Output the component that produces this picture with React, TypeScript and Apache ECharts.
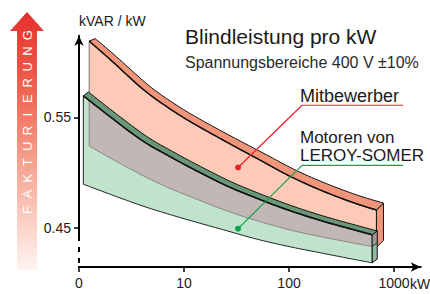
import React, { useEffect, useRef } from 'react';
import * as echarts from 'echarts';

const FONT = '"Liberation Sans", Arial, sans-serif';

// x axis positions are log10(kW); labels
const X_TICKS = [0, 1, 2, 3];
const X_TICK_LABELS = ['0', '10', '100', '1000'];
const Y_TICKS = [0.45, 0.55];

// Mitbewerber band (kW, kVAR/kW)
const COMP_KW = [1.25, 2, 4, 7, 12, 25, 50, 100, 200, 400, 680];
const COMP_TOP = [0.619, 0.602, 0.576, 0.559, 0.545, 0.528, 0.5125, 0.497, 0.484, 0.473, 0.466];
const COMP_BOTTOM = [0.524, 0.513, 0.4975, 0.4865, 0.4774, 0.4656, 0.4562, 0.4482, 0.4419, 0.4363, 0.4322];

// LEROY-SOMER band
const LS_KW = [1.1, 2, 4, 7, 12, 25, 50, 100, 200, 400, 620];
const LS_TOP = [0.5695, 0.5501, 0.5289, 0.5155, 0.5035, 0.4883, 0.4764, 0.4657, 0.4565, 0.4485, 0.4436];
const LS_BOTTOM = [0.4894, 0.4801, 0.4698, 0.4625, 0.456, 0.4475, 0.4395, 0.4329, 0.4272, 0.4216, 0.4182];

// leader lines
const COMP_LEADER_KW = [32.7, 133, 1219];
const COMP_LEADER_V = [0.5045, 0.5609, 0.5609];
const LS_LEADER_KW = [32.7, 133, 1219];
const LS_LEADER_V = [0.4491, 0.5064, 0.5064];

const Y_MIN = 0.4144;
const Y_MAX = 0.6239;
const X_MAX = 3.254;
const AXIS_SOLID_END = 0.438;

const ARROW_WORD = 'FAKTURIERUNG';

// Catmull-Rom densification of pixel points (visual smoothing only)
const smoothPts = (p: number[][], seg = 10) => {
  const out: number[][] = [];
  for (let i = 0; i < p.length - 1; i++) {
    const p0 = p[Math.max(0, i - 1)];
    const p1 = p[i];
    const p2 = p[i + 1];
    const p3 = p[Math.min(p.length - 1, i + 2)];
    for (let s = 0; s < seg; s++) {
      const t = s / seg;
      const t2 = t * t;
      const t3 = t2 * t;
      out.push(
        [0, 1].map(
          (k) =>
            0.5 *
            (2 * p1[k] +
              (-p0[k] + p2[k]) * t +
              (2 * p0[k] - 5 * p1[k] + 4 * p2[k] - p3[k]) * t2 +
              (-p0[k] + 3 * p1[k] - 3 * p2[k] + p3[k]) * t3)
        )
      );
    }
  }
  out.push(p[p.length - 1]);
  return out;
};

const renderBands = (_params: any, api: any) => {
  const pts = (kw: number[], v: number[]) =>
    smoothPts(kw.map((k, i) => api.coord([Math.log10(k), v[i]]) as number[]));
  const cT = pts(COMP_KW, COMP_TOP);
  const cB = pts(COMP_KW, COMP_BOTTOM);
  const gT = pts(LS_KW, LS_TOP);
  const gB = pts(LS_KW, LS_BOTTOM);
  const n1 = cT.length - 1;
  const n2 = gT.length - 1;
  const cBack = cT.map((p, i) => {
    const t = i / n1;
    return [p[0] + 6 + t, p[1] - 2.5 - 4.5 * t];
  });
  const gBack = gT.map((p) => [p[0] + 5, p[1] - 3.8]);
  const cBackBot = [cB[n1][0] + 7, cB[n1][1] - 7];
  const gBackBot = [gB[n2][0] + 5, gB[n2][1] - 3.8];
  const interp = (arr: number[][], x: number) => {
    for (let i = 0; i < arr.length - 1; i++) {
      const a = arr[i];
      const b = arr[i + 1];
      if (x >= a[0] && x <= b[0]) return [x, a[1] + ((b[1] - a[1]) * (x - a[0])) / (b[0] - a[0])];
    }
    return x < arr[0][0] ? arr[0] : arr[arr.length - 1];
  };
  const x0 = cT[0][0];
  const x1 = gT[n2][0];
  const overlapTop = [interp(gT, x0), ...gT.filter((p) => p[0] > x0)];
  const overlapBot = [...cB.filter((p) => p[0] < x1), interp(cB, x1)];
  const overlap = [...overlapTop, ...overlapBot.slice().reverse()];
  // part of the green side face that lies over the competitor band
  const sideSplitFront = interp(cB, x1);
  const sideGray = [gT[n2], gBack[n2], [gBack[n2][0], sideSplitFront[1] - 3.8], sideSplitFront];

  const axX = api.coord([0, Y_MIN])[0];
  const yS = api.coord([0, AXIS_SOLID_END])[1];
  const yB = api.coord([0, Y_MIN])[1];

  return {
    type: 'group',
    children: [
      { type: 'polygon', shape: { points: [...cT, ...cB.slice().reverse()] }, style: { fill: '#FCCAB6', stroke: '#555', lineWidth: 0.8 } },
      { type: 'polygon', shape: { points: [cT[n1], cBack[n1], cBackBot, cB[n1]] }, style: { fill: '#F2967B', stroke: '#111', lineWidth: 1 } },
      { type: 'polygon', shape: { points: [...cT, ...cBack.slice().reverse()] }, style: { fill: '#F2967B', stroke: '#111', lineWidth: 1 } },
      { type: 'polyline', shape: { points: cT }, style: { fill: 'none', stroke: '#111', lineWidth: 1.5 } },
      { type: 'polygon', shape: { points: [...gT, ...gB.slice().reverse()] }, style: { fill: '#BFE3CC', stroke: '#222', lineWidth: 1 } },
      { type: 'polygon', shape: { points: overlap }, style: { fill: '#C1B7B5', stroke: '#8C8584', lineWidth: 1 } },
      { type: 'polygon', shape: { points: [gT[n2], gBack[n2], gBackBot, gB[n2]] }, style: { fill: '#8DBC9C', stroke: '#111', lineWidth: 1 } },
      { type: 'polygon', shape: { points: sideGray }, style: { fill: '#9C9592', stroke: '#111', lineWidth: 0.8 } },
      { type: 'polygon', shape: { points: [...gT, ...gBack.slice().reverse()] }, style: { fill: '#6A9777', stroke: '#111', lineWidth: 1 } },
      { type: 'polyline', shape: { points: gT }, style: { fill: 'none', stroke: '#111', lineWidth: 1.6 } },
      { type: 'line', shape: { x1: axX, y1: yS, x2: axX, y2: yB - 1 }, style: { stroke: '#fff', lineWidth: 3, lineDash: [6, 5] } },
    ],
  };
};

const leader = (kw: number[], v: number[], color: string) => ({
  type: 'line',
  z: 4,
  silent: true,
  animation: false,
  lineStyle: { color, width: 1.2 },
  itemStyle: { color },
  data: kw.map((k, i) =>
    i === 0
      ? { value: [Math.log10(k), v[i]], symbol: 'circle', symbolSize: 6 }
      : { value: [Math.log10(k), v[i]], symbol: 'none' }
  ),
});

const txt = (text: string, x: number, y: number, size: number, color = '#1a1a1a', align = 'left') => ({
  type: 'text',
  x,
  y,
  z: 10,
  style: {
    text,
    fill: color,
    fontSize: size,
    fontFamily: FONT,
    align,
    textAlign: align,
    verticalAlign: 'middle',
    textVerticalAlign: 'middle',
  },
});

const letters = ARROW_WORD.split('').map((ch, i) => ({
  type: 'text',
  x: 27,
  y: 210 - i * 15.9,
  rotation: Math.PI / 2,
  z: 11,
  style: {
    text: ch,
    fill: '#ffffff',
    fontSize: 13,
    fontFamily: FONT,
    align: 'center',
    textAlign: 'center',
    verticalAlign: 'middle',
    textVerticalAlign: 'middle',
  },
}));

const option: any = {
  animation: false,
  grid: { left: 79, right: 9.3, top: 35.7, bottom: 27, containLabel: false },
  xAxis: {
    type: 'value',
    min: 0,
    max: X_MAX,
    splitLine: { show: false },
    axisLine: { show: true, symbol: ['none', 'arrow'], symbolSize: [7, 10], lineStyle: { color: '#000', width: 2 } },
    axisTick: { show: true, customValues: X_TICKS, length: 5, lineStyle: { color: '#000', width: 1.5 } },
    axisLabel: {
      customValues: X_TICKS,
      margin: 9,
      fontSize: 14,
      fontFamily: FONT,
      color: '#1a1a1a',
      formatter: (v: number) => {
        const i = X_TICKS.findIndex((t) => Math.abs(t - v) < 1e-6);
        return i >= 0 ? X_TICK_LABELS[i] : '';
      },
    },
  },
  yAxis: {
    type: 'value',
    min: Y_MIN,
    max: Y_MAX,
    splitLine: { show: false },
    axisLine: { show: true, symbol: ['none', 'arrow'], symbolSize: [7, 10], lineStyle: { color: '#000', width: 2 } },
    axisTick: { show: true, customValues: Y_TICKS, length: 5, lineStyle: { color: '#000', width: 1.5 } },
    axisLabel: {
      customValues: Y_TICKS,
      margin: 8,
      fontSize: 14,
      fontFamily: FONT,
      color: '#1a1a1a',
      formatter: (v: number) => v.toFixed(2),
    },
  },
  series: [
    {
      type: 'custom',
      z: 2,
      clip: false,
      silent: true,
      renderItem: renderBands,
      data: [[0, Y_MIN]],
    },
    leader(COMP_LEADER_KW, COMP_LEADER_V, '#E8202A'),
    leader(LS_LEADER_KW, LS_LEADER_V, '#12A04C'),
  ],
  graphic: [
    {
      type: 'polygon',
      z: 10,
      shape: {
        points: [
          [10, 31],
          [27, 12],
          [44, 31],
          [37, 31],
          [37, 270],
          [17, 270],
          [17, 31],
        ],
      },
      style: {
        fill: new echarts.graphic.LinearGradient(0, 0, 0, 1, [
          { offset: 0, color: '#E5302A' },
          { offset: 0.3, color: '#EE6450' },
          { offset: 0.6, color: '#F6A593' },
          { offset: 0.85, color: '#FBD7CD' },
          { offset: 1, color: '#FEF4F0' },
        ]),
      },
    },
    ...letters,
    txt('kVAR / kW', 79, 21, 14),
    txt('Blindleistung pro kW', 185, 36, 21),
    txt('Spannungsbereiche 400 V ±10%', 185, 62.5, 16, '#2a2a2a'),
    txt('Mitbewerber', 300, 96, 18),
    txt('Motoren von', 300, 137.5, 17),
    txt('LEROY-SOMER', 300, 155.5, 17),
    txt('kW', 410, 284, 14),
  ],
};

export default function App() {
  const ref = useRef<HTMLDivElement>(null);
  useEffect(() => {
    const chart = echarts.init(ref.current!, null, { renderer: 'svg' });
    chart.setOption(option);
    return () => chart.dispose();
  }, []);
  return <div ref={ref} style={{ position: 'absolute', left: 0, top: 0, width: 430, height: 294 }} />;
}
